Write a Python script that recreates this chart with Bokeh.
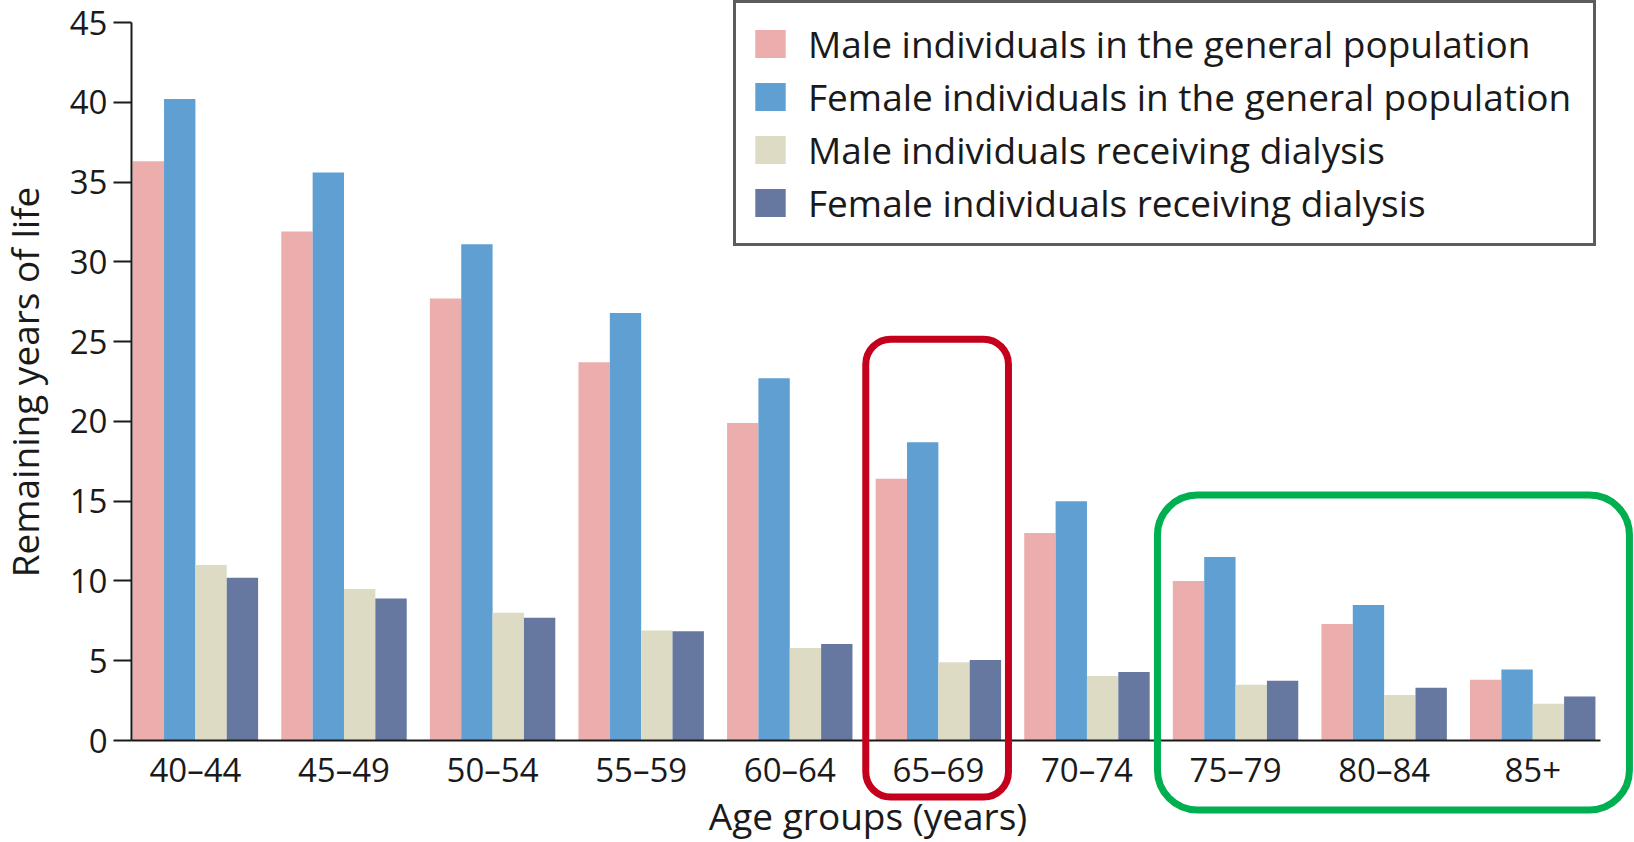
import math
from bokeh.plotting import figure
from bokeh.models import (Range1d, FixedTicker, ColumnDataSource, Legend, LegendItem,
                          BoxAnnotation, Label)
from bokeh.transform import dodge
from bokeh.embed import file_html
from bokeh.resources import INLINE

# ---------------- data ----------------
age_groups = ["40–44", "45–49", "50–54", "55–59", "60–64",
              "65–69", "70–74", "75–79", "80–84", "85+"]
male_general = [36.3, 31.9, 27.7, 23.7, 19.9, 16.4, 13.0, 10.0, 7.3, 3.8]
female_general = [40.2, 35.6, 31.1, 26.8, 22.7, 18.7, 15.0, 11.5, 8.5, 4.45]
male_dialysis = [11.0, 9.5, 8.0, 6.9, 5.8, 4.9, 4.05, 3.5, 2.85, 2.3]
female_dialysis = [10.2, 8.9, 7.7, 6.85, 6.05, 5.05, 4.3, 3.75, 3.3, 2.75]
series_labels = ["Male individuals in the general population",
                 "Female individuals in the general population",
                 "Male individuals receiving dialysis",
                 "Female individuals receiving dialysis"]
y_ticks = [0, 5, 10, 15, 20, 25, 30, 35, 40, 45]
x_title = "Age groups (years)"
y_title = "Remaining years of life"
highlight_red = ["65–69"]
highlight_green = ["75–79", "80–84", "85+"]

# ---------------- style / geometry (pixels) ----------------
colors = ["#ECADAD", "#609FD1", "#DDDBC3", "#6677A0"]
FONT = "Open Sans"
W, H = 1634, 842
AX_LEFT, AX_RIGHT = 131, 1600      # x-axis line extent (px)
AX_BOTTOM, AX_TOP = 740, 22        # y-axis: value 0 and value 45 (px)
x_axis_lo, x_axis_hi = -0.43, 9.456
y_axis_lo, y_axis_hi = 0, 45
bar_w = 0.211

px_x = (AX_RIGHT - AX_LEFT) / (x_axis_hi - x_axis_lo)
px_y = (AX_BOTTOM - AX_TOP) / (y_axis_hi - y_axis_lo)


def dx(sx):
    return x_axis_lo + (sx - AX_LEFT) / px_x


def dy(sy):
    return (AX_BOTTOM - sy) / px_y


idx = list(range(len(age_groups)))
src = ColumnDataSource(dict(idx=idx, m_gen=male_general, f_gen=female_general,
                            m_dia=male_dialysis, f_dia=female_dialysis))

p = figure(width=W, height=H, x_range=Range1d(dx(0), dx(W)),
           y_range=Range1d(dy(H), dy(0)), output_backend="svg",
           toolbar_location=None, min_border_left=0, min_border_right=0,
           min_border_top=0, min_border_bottom=0)
p.title.visible = False
p.outline_line_color = None
p.xgrid.visible = False
p.ygrid.visible = False
p.background_fill_color = "white"
p.border_fill_color = "white"

fields = ["m_gen", "f_gen", "m_dia", "f_dia"]
offsets = [-1.5 * bar_w, -0.5 * bar_w, 0.5 * bar_w, 1.5 * bar_w]
renderers = []
for f, off, c in zip(fields, offsets, colors):
    r = p.vbar(x=dodge("idx", off), top=f, bottom=0, width=bar_w, source=src,
               fill_color=c, line_color=None)
    renderers.append(r)

# axes (drawn at fixed data locations so that the frame spans the canvas)
ax = p.xaxis[0]
ax.fixed_location = 0
ax.bounds = (x_axis_lo, x_axis_hi)
ax.ticker = FixedTicker(ticks=idx)
ax.major_label_overrides = {i: lab for i, lab in zip(idx, age_groups)}
ax.major_tick_out = 0
ax.major_tick_in = 0
ax.minor_tick_out = 0
ax.minor_tick_in = 0
ax.axis_line_width = 2
ax.axis_line_color = "#1a1a1a"
ax.major_label_text_font = FONT
ax.major_label_text_font_size = "33px"
ax.major_label_text_color = "#1a1a1a"
ax.major_label_standoff = 6

ay = p.yaxis[0]
ay.fixed_location = x_axis_lo
ay.bounds = (y_axis_lo, y_axis_hi)
ay.ticker = FixedTicker(ticks=y_ticks)
ay.major_tick_out = 18
ay.major_tick_in = 0
ay.minor_tick_out = 0
ay.minor_tick_in = 0
ay.major_tick_line_width = 2
ay.major_tick_line_color = "#1a1a1a"
ay.axis_line_width = 2
ay.axis_line_color = "#1a1a1a"
ay.major_label_text_font = FONT
ay.major_label_text_font_size = "33px"
ay.major_label_text_color = "#1a1a1a"
ay.major_label_standoff = 6

# axis titles
p.add_layout(Label(x=dx(24), y=dy(381.5), text=y_title,
                   angle=math.pi / 2, text_align="center", text_baseline="alphabetic",
                   text_font=FONT, text_font_size="37px", text_color="#1a1a1a"))
p.add_layout(Label(x=dx(867.5), y=dy(815), text=x_title,
                   text_align="center", text_baseline="alphabetic",
                   text_font=FONT, text_font_size="37px", text_color="#1a1a1a"))

# highlight boxes
red_i = [age_groups.index(g) for g in highlight_red]
green_i = [age_groups.index(g) for g in highlight_green]
p.add_layout(BoxAnnotation(left=min(red_i) - 0.4886, right=max(red_i) + 0.4717,
                           top=dy(338.7), bottom=dy(796.5),
                           fill_alpha=0, line_color="#C4001C", line_alpha=1,
                           line_width=7, border_radius=25))
p.add_layout(BoxAnnotation(left=min(green_i) - 0.5256, right=max(green_i) + 0.6507,
                           top=dy(494.5), bottom=dy(809.5),
                           fill_alpha=0, line_color="#00AF4F", line_alpha=1,
                           line_width=7, border_radius=40))

# legend
items = [LegendItem(label=lab, renderers=[r]) for lab, r in zip(series_labels, renderers)]
legend = Legend(items=items, location=(733, H - 246), orientation="vertical",
                glyph_width=38, glyph_height=35, label_standoff=19, label_width=770,
                padding=15, spacing=2, margin=0,
                label_text_font=FONT, label_text_font_size="37px",
                label_text_color="#1a1a1a", border_line_color="#5c5c5c",
                border_line_alpha=1, border_line_width=3,
                background_fill_color="white", background_fill_alpha=1)
p.add_layout(legend)

open("out.html", "w").write(file_html(p, INLINE))
